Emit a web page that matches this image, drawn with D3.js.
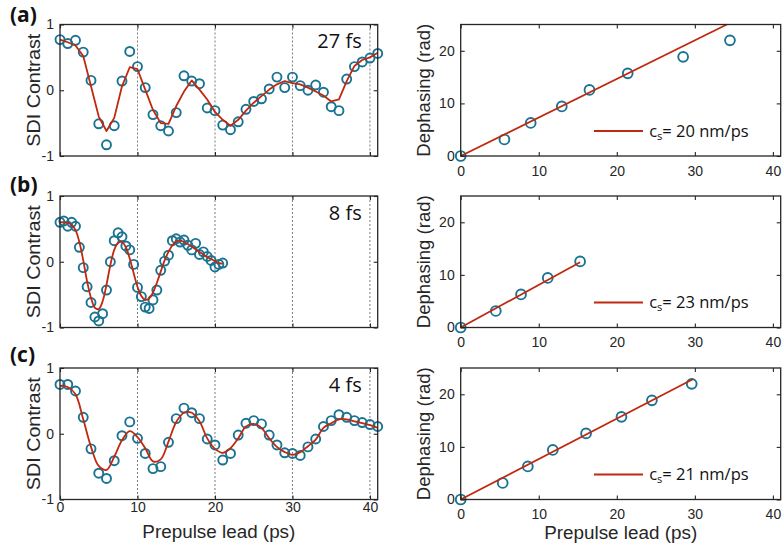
<!DOCTYPE html>
<html><head><meta charset="utf-8">
<script src="https://cdn.jsdelivr.net/npm/d3@7"></script>
<style>body{margin:0;background:#fff}svg{display:block}</style>
</head><body><svg id="c" width="783" height="552"></svg>
<script>
// ---------- data ----------
const panelLetters = ["(a)", "(b)", "(c)"];
const pulseLabels = ["27 fs", "8 fs", "4 fs"];
const soundSpeed = [20, 23, 21];

const leadA = [0,1,2,3,4,5,6,7,8,9,10,11,12,13,14,15,16,17,18,19,20,21,22,23,24,25,26,27,28,29,30,31,32,33,34,35,36,37,38,39,40,41];
const sdiA = [0.77,0.71,0.76,0.58,0.15,-0.51,-0.83,-0.54,0.14,0.59,0.36,0.04,-0.37,-0.54,-0.62,-0.34,0.22,0.14,0.10,-0.27,-0.31,-0.53,-0.60,-0.48,-0.29,-0.17,-0.13,0.02,0.20,0.04,0.20,0.07,0.00,0.08,-0.03,-0.25,-0.31,0.17,0.36,0.43,0.49,0.56];
const fitA = [0.77,0.73,0.68,0.52,0.06,-0.40,-0.62,-0.42,0.06,0.35,0.32,0.01,-0.30,-0.50,-0.51,-0.24,-0.02,0.15,0.01,-0.14,-0.33,-0.45,-0.54,-0.45,-0.31,-0.19,-0.09,0.01,0.09,0.14,0.11,0.09,0.04,-0.02,-0.08,-0.17,-0.14,0.14,0.37,0.46,0.50,0.57];

const leadB = [0,0.5,1,1.5,2,2.5,3,3.5,4,4.5,5,5.5,6,6.5,7,7.5,8,8.5,9,9.5,10,10.5,11,11.5,12,12.5,13,13.5,14,14.5,15,15.5,16,16.5,17,17.5,18,18.5,19,19.5,20,20.5,21];
const sdiB = [0.60,0.62,0.54,0.60,0.54,0.22,-0.09,-0.38,-0.62,-0.84,-0.90,-0.79,-0.43,0.00,0.32,0.44,0.38,0.24,0.18,-0.04,-0.39,-0.53,-0.69,-0.71,-0.58,-0.43,-0.13,0.01,0.10,0.32,0.35,0.30,0.33,0.25,0.18,0.28,0.11,0.15,0.08,0.02,-0.08,-0.04,-0.02];
const fitB = [0.60,0.60,0.59,0.56,0.48,0.30,0.02,-0.30,-0.55,-0.70,-0.72,-0.60,-0.35,-0.05,0.18,0.29,0.30,0.22,0.05,-0.17,-0.38,-0.52,-0.58,-0.56,-0.47,-0.32,-0.15,0.02,0.15,0.25,0.31,0.32,0.30,0.27,0.23,0.19,0.15,0.11,0.07,0.04,0.01,-0.02,-0.03];

const leadC = [0,1,2,3,4,5,6,7,8,9,10,11,12,13,14,15,16,17,18,19,20,21,22,23,24,25,26,27,28,29,30,31,32,33,34,35,36,37,38,39,40,41];
const sdiC = [0.75,0.75,0.65,0.25,-0.23,-0.60,-0.68,-0.41,-0.03,0.18,-0.07,-0.30,-0.53,-0.50,-0.13,0.23,0.39,0.32,0.23,-0.08,-0.17,-0.40,-0.30,-0.02,0.16,0.20,0.15,-0.02,-0.17,-0.29,-0.30,-0.33,-0.20,-0.08,0.11,0.20,0.29,0.25,0.20,0.17,0.14,0.11];
const fitC = [0.73,0.71,0.60,0.22,-0.20,-0.49,-0.55,-0.35,-0.10,0.04,-0.05,-0.22,-0.42,-0.39,-0.12,0.18,0.32,0.32,0.19,-0.07,-0.23,-0.29,-0.22,-0.07,0.11,0.15,0.09,-0.07,-0.20,-0.28,-0.32,-0.28,-0.19,-0.09,0.09,0.16,0.22,0.22,0.19,0.16,0.13,0.09];

const dephLeadA = [0,5.6,8.97,12.95,16.5,21.4,28.5,34.5];
const dephA = [0,3.14,6.28,9.42,12.57,15.71,18.85,21.99];
const dephLeadB = [0,4.5,7.73,11.15,15.3];
const dephB = [0,3.14,6.28,9.42,12.57];
const dephLeadC = [0,5.38,8.6,11.8,16.06,20.6,24.5,29.6];
const dephC = [0,3.14,6.28,9.42,12.57,15.71,18.85,21.99];
const fitLineX = [[0,34.1],[0,15.3],[0,29.8]];
const fitLineY = [[0,25],[0,12.4],[0,22.9]];

const xTicks = [0,10,20,30,40];
const xTickLabels = ["0","10","20","30","40"];
const gridX = [10,20,30,40];
const sdiTicks = [-1,0,1];
const sdiTickLabels = ["-1","0","1"];
const dephTicks = [0,10,20];
const dephTickLabels = ["0","10","20"];

const leftSets = [
  {lead: leadA, sdi: sdiA, fit: fitA, curve: d3.curveLinear},
  {lead: leadB, sdi: sdiB, fit: fitB, curve: d3.curveCatmullRom},
  {lead: leadC, sdi: sdiC, fit: fitC, curve: d3.curveCatmullRom}
];
const rightSets = [
  {lead: dephLeadA, deph: dephA},
  {lead: dephLeadB, deph: dephB},
  {lead: dephLeadC, deph: dephC}
];

// ---------- layout / style ----------
const svg = d3.select("#c");
const rowTops = [24.5, 196, 368];
const rowH = 131.5;
const L = {x0: 60, x1: 377.7};
const R = {x0: 460.7, x1: 780.7};
const axisColor = "#262626";
const teal = "#1a7391";
const red = "#c0280f";
const tickFont = "'Liberation Sans', Arial, sans-serif";
const annFont = "'Open Sans', 'Noto Sans', sans-serif";

function fmtFrom(ticks, labels) {
  return d => labels[ticks.indexOf(d)];
}

function frame(g, xs, ys, xlab, ylab, xPad) {
  const b = ys.range()[0], t = ys.range()[1];
  const l = xs.range()[0], r = xs.range()[1];
  const ax = d3.axisBottom(xs).tickValues(xTicks).tickSizeInner(-4).tickSizeOuter(0).tickPadding(xPad)
    .tickFormat(xlab ? fmtFrom(xTicks, xTickLabels) : "");
  const gb = g.append("g").attr("transform", `translate(0,${b})`).call(ax);
  const at = d3.axisTop(xs).tickValues(xTicks).tickSizeInner(-4).tickSizeOuter(0).tickFormat("");
  const gt = g.append("g").attr("transform", `translate(0,${t})`).call(at);
  const al = d3.axisLeft(ys).tickValues(ylab.ticks).tickSizeInner(-4).tickSizeOuter(0).tickPadding(6)
    .tickFormat(fmtFrom(ylab.ticks, ylab.labels));
  const gl = g.append("g").attr("transform", `translate(${l},0)`).call(al);
  const ar = d3.axisRight(ys).tickValues(ylab.ticks).tickSizeInner(-4).tickSizeOuter(0).tickFormat("");
  const gr = g.append("g").attr("transform", `translate(${r},0)`).call(ar);
  [gb, gt, gl, gr].forEach(a => {
    a.select(".domain").remove();
    a.selectAll(".tick line").attr("stroke", axisColor).attr("stroke-width", 1.1);
    a.selectAll(".tick text").attr("fill", axisColor).style("font-family", tickFont).style("font-size", "14px");
  });
  g.append("rect").attr("x", l).attr("y", t).attr("width", r - l).attr("height", b - t)
    .attr("fill", "none").attr("stroke", axisColor).attr("stroke-width", 1.3);
}

for (let i = 0; i < 3; i++) {
  const top = rowTops[i], bot = top + rowH;
  // ----- left panel -----
  const gL = svg.append("g");
  const xs = d3.scaleLinear().domain([0, 41]).range([L.x0, L.x1]);
  const ys = d3.scaleLinear().domain([-1, 1]).range([bot, top]);
  gL.selectAll("line.grid").data(gridX).join("line").attr("class", "grid")
    .attr("x1", d => xs(d)).attr("x2", d => xs(d)).attr("y1", top).attr("y2", bot)
    .attr("stroke", "#7a7a7a").attr("stroke-width", 1).attr("stroke-dasharray", "2,2");
  const set = leftSets[i];
  const pts = set.lead.map((x, k) => ({x, y: set.sdi[k]}));
  gL.selectAll("circle").data(pts).join("circle")
    .attr("cx", d => xs(d.x)).attr("cy", d => ys(d.y)).attr("r", 4.5)
    .attr("fill", "none").attr("stroke", teal).attr("stroke-width", 1.9);
  const fitPts = set.lead.map((x, k) => ({x, y: set.fit[k]}));
  gL.append("path").datum(fitPts)
    .attr("d", d3.line().x(d => xs(d.x)).y(d => ys(d.y)).curve(set.curve))
    .attr("fill", "none").attr("stroke", red).attr("stroke-width", 1.8).attr("stroke-linejoin", "round");
  frame(gL, xs, ys, i === 2, {ticks: sdiTicks, labels: sdiTickLabels}, 3);
  gL.append("text").attr("x", 361.7).attr("y", top + 23.5).attr("text-anchor", "end")
    .style("font-family", annFont).style("font-size", "20px").attr("fill", "#111").text(pulseLabels[i]);
  gL.append("text").attr("x", 10).attr("y", 22 + i * 170)
    .style("font-family", annFont).style("font-size", "21px").style("font-weight", "bold").attr("fill", "#111")
    .text(panelLetters[i]);
  gL.append("text").attr("transform", `translate(39.5,${(top + bot) / 2}) rotate(-90)`)
    .attr("text-anchor", "middle").attr("textLength", 113).attr("lengthAdjust", "spacingAndGlyphs")
    .style("font-family", tickFont).style("font-size", "17.5px").attr("fill", axisColor).text("SDI Contrast");

  // ----- right panel -----
  const gR = svg.append("g");
  const xr = d3.scaleLinear().domain([0, 41]).range([R.x0, R.x1]);
  const yr = d3.scaleLinear().domain([0, 25]).range([bot, top]);
  const rs = rightSets[i];
  const rpts = rs.lead.map((x, k) => ({x, y: rs.deph[k]}));
  gR.selectAll("circle").data(rpts).join("circle")
    .attr("cx", d => xr(d.x)).attr("cy", d => yr(d.y)).attr("r", 4.9)
    .attr("fill", "none").attr("stroke", teal).attr("stroke-width", 1.9);
  const lp = fitLineX[i].map((x, k) => ({x, y: fitLineY[i][k]}));
  gR.append("path").datum(lp)
    .attr("d", d3.line().x(d => xr(d.x)).y(d => yr(d.y)))
    .attr("fill", "none").attr("stroke", red).attr("stroke-width", 1.8);
  frame(gR, xr, yr, true, {ticks: dephTicks, labels: dephTickLabels}, 10);
  gR.append("text").attr("transform", `translate(429.5,${(top + bot) / 2}) rotate(-90)`)
    .attr("text-anchor", "middle").attr("textLength", 133).attr("lengthAdjust", "spacingAndGlyphs")
    .style("font-family", tickFont).style("font-size", "17.5px").attr("fill", axisColor).text("Dephasing (rad)");
  // legend
  const ly = bot - 25;
  gR.append("line").attr("x1", R.x0 + 133.3).attr("x2", R.x0 + 182.3).attr("y1", ly).attr("y2", ly)
    .attr("stroke", red).attr("stroke-width", 1.8);
  const lt = gR.append("text").attr("x", R.x0 + 188.5).attr("y", ly + 5.7)
    .style("font-family", annFont).style("font-size", "16.5px").attr("fill", "#111");
  lt.append("tspan").text("c");
  lt.append("tspan").attr("dy", 3).style("font-size", "11px").text("s");
  lt.append("tspan").attr("dy", -3).text(`= ${soundSpeed[i]} nm/ps`);
}

// x labels
svg.append("text").attr("x", (L.x0 + L.x1) / 2).attr("y", 537.5).attr("text-anchor", "middle")
  .attr("textLength", 153).attr("lengthAdjust", "spacingAndGlyphs")
  .style("font-family", tickFont).style("font-size", "17.5px").attr("fill", axisColor).text("Prepulse lead (ps)");
svg.append("text").attr("x", (R.x0 + R.x1) / 2).attr("y", 538.5).attr("text-anchor", "middle")
  .attr("textLength", 153).attr("lengthAdjust", "spacingAndGlyphs")
  .style("font-family", tickFont).style("font-size", "17.5px").attr("fill", axisColor).text("Prepulse lead (ps)");
</script></body></html>
